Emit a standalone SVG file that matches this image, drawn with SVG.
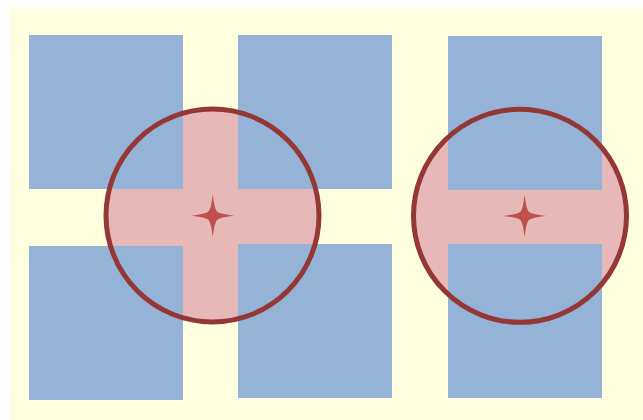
<svg xmlns="http://www.w3.org/2000/svg" width="643" height="420" viewBox="0 0 643 420">
  <style>
    .bg { fill: #FFFFE0; }
    .sq { fill: #95B3D7; }
    .zone { fill: #E6B9B8; stroke: none; }
    .ring { fill: none; stroke: #953735; stroke-width: 5; }
    .star { fill: #C0504D; }
  </style>
  <defs>
    <path id="star4" d="M0,-21.5 Q1.6,-7 4.2,-4.2 Q7,-1.6 21.5,0 Q7,1.6 4.2,4.2 Q1.6,7 0,21.5 Q-1.6,7 -4.2,4.2 Q-7,1.6 -21.5,0 Q-7,-1.6 -4.2,-4.2 Q-1.6,-7 0,-21.5 Z"/>
  </defs>
  <rect class="bg" x="10" y="8" width="633" height="412"/>
  <g id="zones">
    <circle class="zone" cx="212.5" cy="215.5" r="106.5"/>
    <circle class="zone" cx="520" cy="215.8" r="106.5"/>
  </g>
  <g id="square-top-left"><rect class="sq" x="29" y="35" width="154" height="154"/></g>
  <g id="square-bottom-left"><rect class="sq" x="29" y="246" width="154" height="154"/></g>
  <g id="square-top-middle"><rect class="sq" x="238" y="35" width="154" height="154"/></g>
  <g id="square-bottom-middle"><rect class="sq" x="238" y="244" width="154" height="154"/></g>
  <g id="square-top-right"><rect class="sq" x="448" y="36" width="154" height="154"/></g>
  <g id="square-bottom-right"><rect class="sq" x="448" y="244" width="154" height="154"/></g>
  <g id="circle-left">
    <circle class="ring" cx="212.5" cy="215.5" r="106.5"/>
    <use href="#star4" class="star" transform="translate(212.8,215.7)"/>
  </g>
  <g id="circle-right">
    <circle class="ring" cx="520" cy="215.8" r="106.5"/>
    <use href="#star4" class="star" transform="translate(524.6,215.9)"/>
  </g>
  <g id="connectors"></g>
</svg>
